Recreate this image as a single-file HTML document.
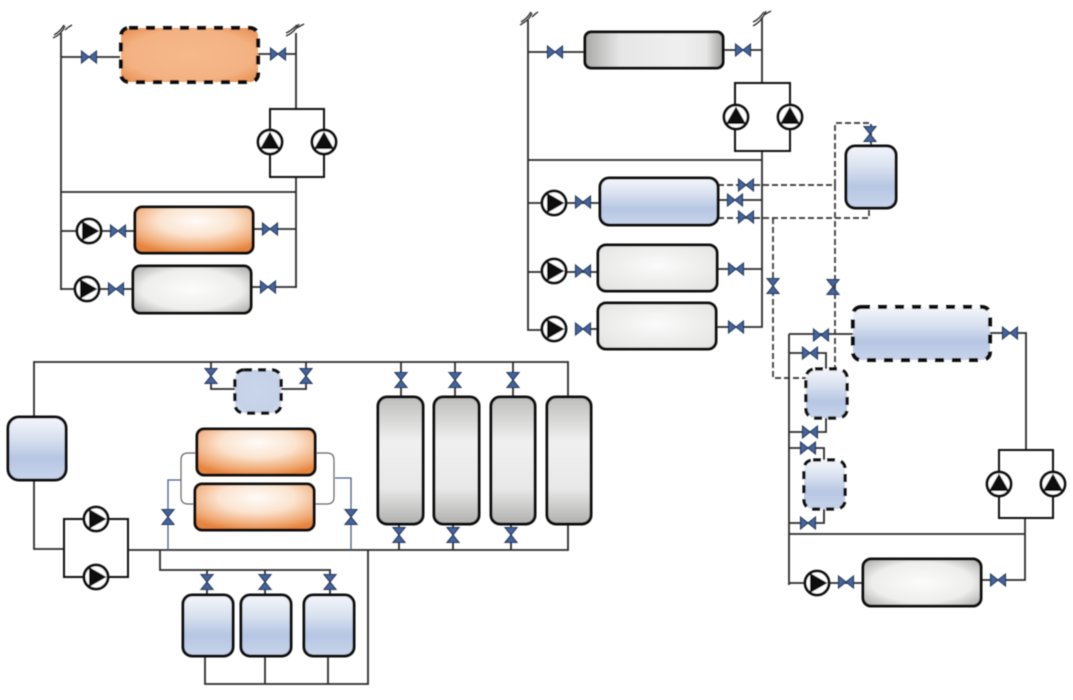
<!DOCTYPE html>
<html><head><meta charset="utf-8"><style>html,body{margin:0;padding:0;background:#fff;width:1073px;height:700px;overflow:hidden}svg{display:block}</style></head><body>
<svg width="1073" height="700" viewBox="0 0 1073 700" xmlns="http://www.w3.org/2000/svg">
<defs>
<radialGradient id="o" cx=".52" cy=".3" r=".72"><stop offset="0" stop-color="#fffbf7"/><stop offset=".45" stop-color="#fbe3cf"/><stop offset=".82" stop-color="#f0a872"/><stop offset="1" stop-color="#e5843f"/></radialGradient>
<radialGradient id="od" cx=".5" cy=".5" r=".7"><stop offset="0" stop-color="#f6b98a"/><stop offset=".65" stop-color="#f4b283"/><stop offset="1" stop-color="#e68c4c"/></radialGradient>
<radialGradient id="g" cx=".5" cy=".5" r=".7"><stop offset="0" stop-color="#fcfcfc"/><stop offset=".6" stop-color="#eeeeec"/><stop offset="1" stop-color="#a6a6a4"/></radialGradient>
<linearGradient id="gt" x1="0" x2="0" y1="0" y2="1"><stop offset="0" stop-color="#bdbdbb"/><stop offset=".35" stop-color="#f0f0f0"/><stop offset=".72" stop-color="#e8e8e8"/><stop offset="1" stop-color="#b0b0ae"/></linearGradient>
<radialGradient id="l" cx=".5" cy=".45" r=".8"><stop offset="0" stop-color="#fbfbfb"/><stop offset="1" stop-color="#dfdfdd"/></radialGradient>
<linearGradient id="gv" x1="0" x2="1" y1="0" y2="0"><stop offset="0" stop-color="#a8a8a6"/><stop offset=".25" stop-color="#e6e6e6"/><stop offset=".7" stop-color="#efefef"/><stop offset=".88" stop-color="#e6e6e6"/><stop offset="1" stop-color="#a2a2a0"/></linearGradient>
<linearGradient id="b" x1="0" x2="0" y1="0" y2="1"><stop offset="0" stop-color="#f4f6fb"/><stop offset=".35" stop-color="#d8e0ef"/><stop offset=".65" stop-color="#b6c6e3"/><stop offset="1" stop-color="#c8d4ea"/></linearGradient>
<radialGradient id="bp" cx=".5" cy=".5" r=".7"><stop offset="0" stop-color="#c9d5ea"/><stop offset=".7" stop-color="#c6d2e8"/><stop offset="1" stop-color="#dde4f1"/></radialGradient>
<g id="v"><path d="M-7.5-6 0 0-7.5 6ZM7.5-6 0 0 7.5 6Z" fill="#44639c" stroke="#25395a" stroke-width="1.1"/></g>
<g id="w"><path d="M-6-7.5 0 0 6-7.5ZM-6 7.5 0 0 6 7.5Z" fill="#44639c" stroke="#25395a" stroke-width="1.1"/></g>
<g id="pr"><circle r="12" fill="#fff" stroke="#0c0c0c" stroke-width="2.8"/><path d="M-7-10 10.5 0-7 10Z" fill="#0c0c0c"/></g>
<g id="pu"><circle r="12" fill="#fff" stroke="#0c0c0c" stroke-width="2.8"/><path d="M-10 7 0-10.5 10 7Z" fill="#0c0c0c"/></g>
<filter id="s" x="-5%" y="-5%" width="110%" height="110%"><feGaussianBlur stdDeviation=".5"/></filter>
</defs>
<g filter="url(#s)">
<g fill="none" stroke="#2c2c2c" stroke-width="1.8">
<path d="M61 33V290M296 33V109M296 177V288M61 192H296M61 57H120M258 54H296M61 231H135M253 229H296M61 289H133M251 287H296"/>
<path d="M53 38C58 36 62 33 65 26M65 30C68 27 70 26 72 25M54 35C58 33 61 30 64 25" stroke-width="1.3"/>
<path d="M286 36C291 34 295 31 299 24M297 28C300 26 302 25 304 24M286 33C291 31 294 28 297 25" stroke-width="1.3"/>
<path d="M270 109H324V177H270Z" stroke="#111" stroke-width="2"/>
<path d="M528 20V330H554M762 17V83M762 151V327H717M528 160H762M528 52H585M723 50H762M528 203H600M718 200H762M528 272H598M717 269H762M583 329H598"/>
<path d="M520 25C525 22 529 20 532 13M532 17C535 14 536 13 538 12M521 22C525 20 528 17 531 12" stroke-width="1.3"/>
<path d="M753 26C758 23 762 20 766 11M764 15C767 13 769 12 771 11M753 22C758 20 761 16 764 12" stroke-width="1.3"/>
<path d="M735 83H790V151H735Z" stroke="#111" stroke-width="2"/>
<path d="M789 334V585M789 334H853M990 333H1026V450M1025 518V580H981M789 534H1025M789 583H863M789 353H826V369M789 432H826V418M789 448H824V460M789 523H824V509"/>
<path d="M999 450H1053V518H999Z" stroke="#111" stroke-width="2"/>
<path d="M34 416V362H568V397M34 480V549H64M128 550H568V524M160 550V570H330V595M207 570V595M265 570V595M205 656V684H368V550M265 656V684M328 656V684"/>
<path d="M64 519H128V577H64Z" stroke="#111" stroke-width="2"/>
<path d="M211 362V389H235M306 362V389H281M401 362V397M455 362V397M513 362V397M399 524V550M453 524V550M511 524V550"/>
<path d="M197 453H188Q181 453 181 460V497Q181 504 188 504H195M315 453H327Q334 453 334 460V497Q334 504 327 504H314" stroke="#666" stroke-width="1.2"/>
<path d="M181 480H168V550M335 478H351V550" stroke="#4a5f88" stroke-width="1.3"/>
</g>
<g fill="none" stroke="#333" stroke-width="1.7" stroke-dasharray="6 3">
<path d="M718 185H835V123H871V146M835 185V369"/>
<path d="M718 218H869V208M773 218V378H806"/>
</g>
<g stroke="#0e0e0e" stroke-width="3">
<rect x="135" y="207" width="118" height="46" rx="7" fill="url(#o)"/>
<rect x="133" y="266" width="118" height="47" rx="7" fill="url(#g)"/>
<rect x="585" y="32" width="138" height="36" rx="6" fill="url(#gv)"/>
<rect x="600" y="178" width="118" height="47" rx="9" fill="url(#b)"/>
<rect x="598" y="245" width="119" height="46" rx="8" fill="url(#l)"/>
<rect x="598" y="303" width="118" height="46" rx="8" fill="url(#l)"/>
<rect x="846" y="146" width="50" height="62" rx="9" fill="url(#b)"/>
<rect x="863" y="559" width="118" height="47" rx="8" fill="url(#g)"/>
<rect x="8" y="417" width="58" height="63" rx="11" fill="url(#b)"/>
<rect x="197" y="429" width="118" height="46" rx="7" fill="url(#o)"/>
<rect x="195" y="484" width="119" height="46" rx="7" fill="url(#o)"/>
<rect x="183" y="595" width="50" height="61" rx="9" fill="url(#b)"/>
<rect x="241" y="595" width="50" height="61" rx="9" fill="url(#b)"/>
<rect x="304" y="595" width="50" height="61" rx="9" fill="url(#b)"/>
<rect x="378" y="397" width="45" height="127" rx="9" fill="url(#gt)"/>
<rect x="434" y="397" width="45" height="127" rx="9" fill="url(#gt)"/>
<rect x="491" y="397" width="44" height="127" rx="9" fill="url(#gt)"/>
<rect x="547" y="397" width="44" height="127" rx="9" fill="url(#gt)"/>
</g>
<g stroke="#0e0e0e" stroke-width="4" stroke-dasharray="9 8">
<rect x="121" y="28" width="137" height="54" rx="8" fill="url(#od)"/>
<rect x="853" y="307" width="137" height="53" rx="8" fill="url(#b)"/>
</g>
<g stroke="#0e0e0e" stroke-width="3.2" stroke-dasharray="8 6">
<rect x="806" y="369" width="41" height="49" rx="9" fill="url(#b)"/>
<rect x="804" y="460" width="41" height="49" rx="9" fill="url(#b)"/>
<rect x="235" y="370" width="46" height="43" rx="9" fill="url(#bp)"/>
</g>
<use href="#pu" x="270" y="142"/><use href="#pu" x="324" y="142"/>
<use href="#pr" x="89" y="231"/><use href="#pr" x="87" y="289"/>
<use href="#pu" x="736" y="117"/><use href="#pu" x="790" y="117"/>
<use href="#pr" x="554" y="203"/><use href="#pr" x="554" y="271"/><use href="#pr" x="554" y="329"/>
<use href="#pu" x="999" y="484"/><use href="#pu" x="1053" y="484"/>
<use href="#pr" x="817" y="583"/>
<use href="#pr" x="96" y="519"/><use href="#pr" x="96" y="577"/>
<use href="#v" x="89" y="57"/><use href="#v" x="278" y="54"/><use href="#v" x="118" y="231"/><use href="#v" x="270" y="229"/><use href="#v" x="116" y="289"/><use href="#v" x="268" y="287"/>
<use href="#v" x="555" y="52"/><use href="#v" x="743" y="50"/><use href="#v" x="583" y="202"/><use href="#v" x="746" y="185"/><use href="#v" x="735" y="200"/><use href="#v" x="746" y="217"/><use href="#v" x="583" y="271"/><use href="#v" x="736" y="269"/><use href="#v" x="583" y="329"/><use href="#v" x="736" y="327"/>
<use href="#w" x="870" y="134"/><use href="#w" x="773" y="286"/><use href="#w" x="833" y="287"/>
<use href="#v" x="821" y="335"/><use href="#v" x="1010" y="333"/><use href="#v" x="810" y="353"/><use href="#v" x="810" y="432"/><use href="#v" x="808" y="448"/><use href="#v" x="808" y="523"/><use href="#v" x="846" y="582"/><use href="#v" x="998" y="580"/>
<use href="#w" x="211" y="376"/><use href="#w" x="306" y="376"/><use href="#w" x="401" y="380"/><use href="#w" x="455" y="380"/><use href="#w" x="513" y="380"/><use href="#w" x="399" y="535"/><use href="#w" x="453" y="535"/><use href="#w" x="511" y="535"/><use href="#w" x="168" y="517"/><use href="#w" x="351" y="517"/><use href="#w" x="207" y="582"/><use href="#w" x="265" y="582"/><use href="#w" x="330" y="582"/>
</g>
</svg>
</body></html>
